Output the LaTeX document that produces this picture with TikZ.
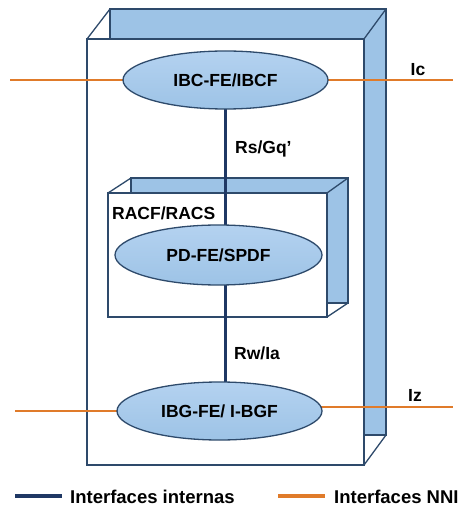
\documentclass[tikz,border=0pt]{standalone}
\usepackage{fontspec}
\setmainfont{Liberation Sans}
\usetikzlibrary{shapes.geometric}
\definecolor{navy}{HTML}{1F3864}
\definecolor{orng}{HTML}{E07B2A}
\definecolor{lblue}{HTML}{9DC3E6}
\definecolor{lbluetop}{HTML}{B4D2F0}
\definecolor{edge}{HTML}{2E4A6B}
\pgfdeclarelayer{bg}
\pgfsetlayers{bg,main}
\begin{document}
\begin{tikzpicture}[x=1pt,y=-1pt,
  ell/.style={ellipse, draw=edge, line width=1.3pt, top color=lbluetop, bottom color=lblue,
    minimum width=205pt, minimum height=58pt, inner sep=0pt,
    font=\fontsize{17.5}{20}\selectfont\bfseries},
  lbl/.style={font=\fontsize{17.5}{20}\selectfont\bfseries, inner sep=0pt},
  leg/.style={font=\fontsize{18.5}{21}\selectfont\bfseries, inner sep=0pt},
  frame/.style={draw=edge, line width=1.3pt},
  nni/.style={draw=orng, line width=2.4pt},
  internal/.style={draw=navy, line width=2.8pt}]
\useasboundingbox (0,0) rectangle (460,510);

% ellipses (main layer)
\node[ell] (ibc) at (225.5,80) {IBC-FE/IBCF};
\node[ell, minimum width=207pt, minimum height=60pt] (pd) at (218.5,255) {PD-FE/SPDF};
\node[ell] (ibg) at (219.5,411) {IBG-FE/ I-BGF};

\begin{pgfonlayer}{bg}
% outer box
\path[frame, fill=lblue] (110,9) rectangle (386,435);
\path[frame, fill=white] (87,39) rectangle (364,465);
\draw[frame] (87,39) -- (110,9) (364,39) -- (386,9) (364,465) -- (386,435);
% inner box
\path[frame, fill=lblue] (131,178) rectangle (348,303);
\path[frame, fill=white] (108,193) rectangle (327,317);
\draw[frame] (108,193) -- (131,178) (327,193) -- (348,178) (327,317) -- (348,303);
% internal interfaces
\draw[internal] (ibc.center) -- (ibc.center |- pd.center);
\draw[internal] (ibc.center |- pd.center) -- (ibc.center |- ibg.center);
% NNI interfaces
\coordinate (l1) at (10,80);
\coordinate (r1) at (453,80);
\coordinate (l2) at (15,411);
\coordinate (r2) at (453,407);
\draw[nni] (l1) -- (ibc.center);
\draw[nni] (ibc.center) -- (r1);
\draw[nni] (l2) -- (ibg.center);
\draw[nni] (ibg.center |- r2) -- (r2);
\end{pgfonlayer}

% labels
\node[lbl, anchor=west] (racf) at (112,213) {RACF/RACS};
\node[lbl, anchor=west] (rs) at (235,149) {Rs/Gq’};
\node[lbl, anchor=west] (rw) at (234,353) {Rw/Ia};
\node[lbl] (ic) at (418,70) {Ic};
\node[lbl] (iz) at (415,395) {Iz};

% legend
\coordinate (a1) at (15,496);
\coordinate (a2) at (62,496);
\coordinate (b1) at (278,496);
\coordinate (b2) at (325,496);
\draw[internal, line width=3.5pt] (a1) -- (a2);
\draw[nni, line width=3.5pt] (b1) -- (b2);
\node[leg, anchor=west] (li) at (70,497) {Interfaces internas};
\node[leg, anchor=west] (ln) at (334,497) {Interfaces NNI};
\end{tikzpicture}
\end{document}
